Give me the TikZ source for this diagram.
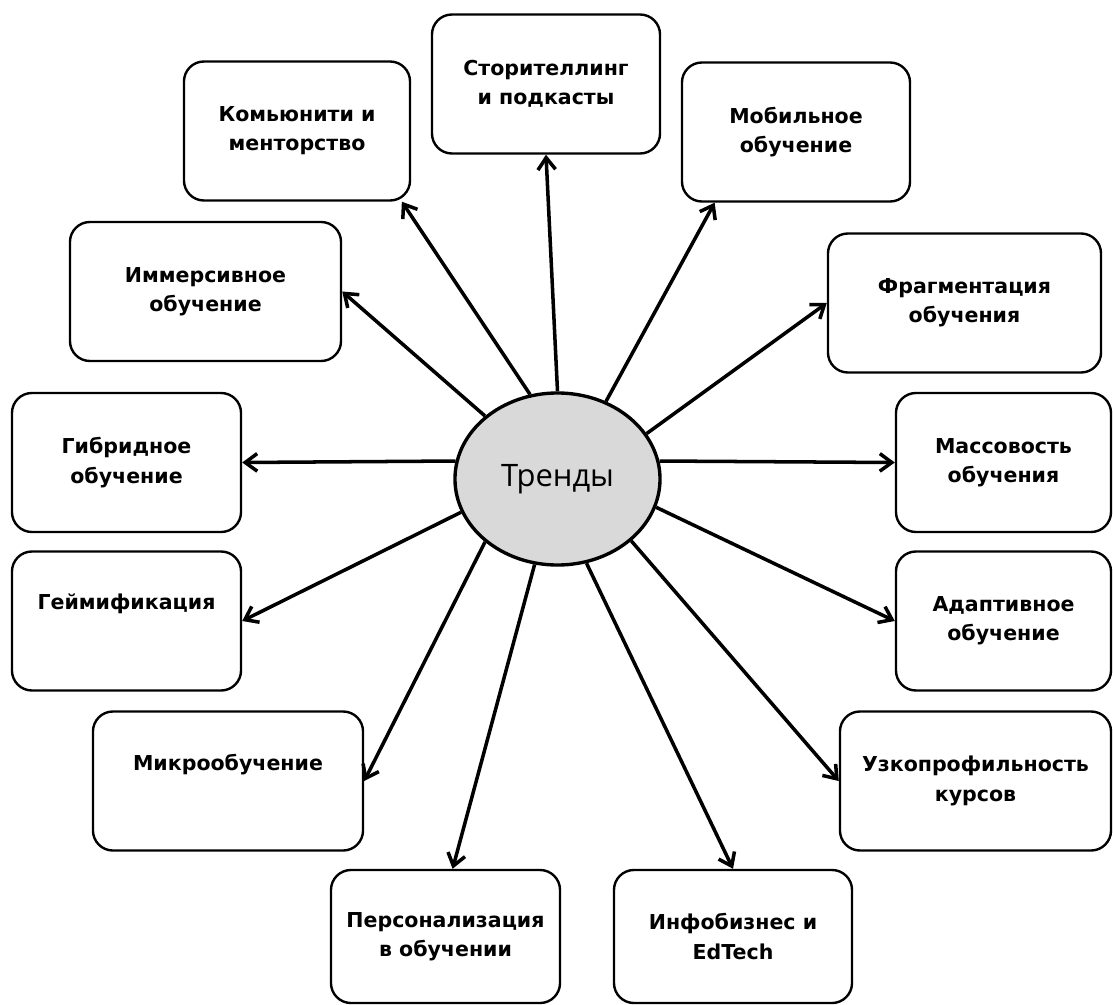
\documentclass[tikz,border=0pt]{standalone}
\usepackage{fontspec}
\setmainfont{DejaVu Sans}
\newfontfamily\trfont{Open Sans}
\usetikzlibrary{shapes.geometric,arrows.meta}
\definecolor{trgray}{RGB}{217,217,217}
\tikzset{
  box/.style={draw, rectangle, rounded corners=0.5cm, line width=1.7pt, align=center,
    minimum width=5.7cm, minimum height=3.475cm, inner sep=0pt,
    font=\fontsize{14.6}{20.8}\selectfont\bfseries},
  wbox/.style={box, minimum width=6.775cm},
  arr/.style={->, line width=2.5pt}
}
\begin{document}
\begin{tikzpicture}[x=0.025cm, y=-0.025cm, >={Straight Barb[length=3mm,width=4.4mm]}]
\useasboundingbox (0,0) rectangle (1113,1005);
\node[draw, ellipse, line width=2.4pt, fill=trgray, minimum width=5.125cm, minimum height=4.3cm, inner sep=0pt,
  font=\trfont\fontsize{22}{26}\selectfont] (tr) at (557.5,479) {Тренды};
\node[box] (sto) at (546,84) {Сторителлинг\\и подкасты};
\node[box, minimum width=5.65cm] (kom) at (297,131) {Комьюнити и\\менторство};
\node[box] (mob) at (796,132) {Мобильное\\обучение};
\node[wbox] (imm) at (205.5,291.5) {Иммерсивное\\обучение};
\node[wbox, minimum width=6.825cm] (fra) at (964.5,303) {Фрагментация\\обучения};
\node[box, minimum width=5.725cm] (gib) at (126.5,462.5) {Гибридное\\обучение};
\node[box, minimum width=5.375cm] (mas) at (1003.5,462.5) {Массовость\\обучения};
\node[box, minimum width=5.725cm] (gei) at (126.5,621) {Геймификация\\\strut};
\node[box, minimum width=5.375cm] (ada) at (1003.5,621) {Адаптивное\\обучение};
\node[wbox, minimum width=6.75cm] (mik) at (228,781) {Микрообучение\\\strut};
\node[wbox] (uzk) at (975.5,781) {Узкопрофильность\\курсов};
\node[box, minimum width=5.725cm, minimum height=3.325cm] (per) at (445.5,936.5) {Персонализация\\в обучении};
\node[box, minimum width=5.95cm, minimum height=3.325cm] (inf) at (733,936.5) {Инфобизнес и\\EdTech};
\draw[arr] (tr.90) -- (sto.south);
\draw[arr] (tr.108.7) -- (kom.-34);
\draw[arr] (tr.58.3) -- (mob.-139);
\draw[arr] (tr.139.5) -- (imm.east);
\draw[arr] (tr.27.7) -- (fra.west);
\draw[arr] (tr.170) -- (gib.east);
\draw[arr] (tr.10) -- (mas.west);
\draw[arr] (tr.-161) -- (gei.east);
\draw[arr] (tr.-16) -- (ada.west);
\draw[arr] (tr.-139) -- (mik.east);
\draw[arr] (tr.-40) -- (uzk.west);
\draw[arr] (tr.-105) -- (per.84);
\draw[arr] (tr.-71.5) -- (inf.north);
\end{tikzpicture}
\end{document}
